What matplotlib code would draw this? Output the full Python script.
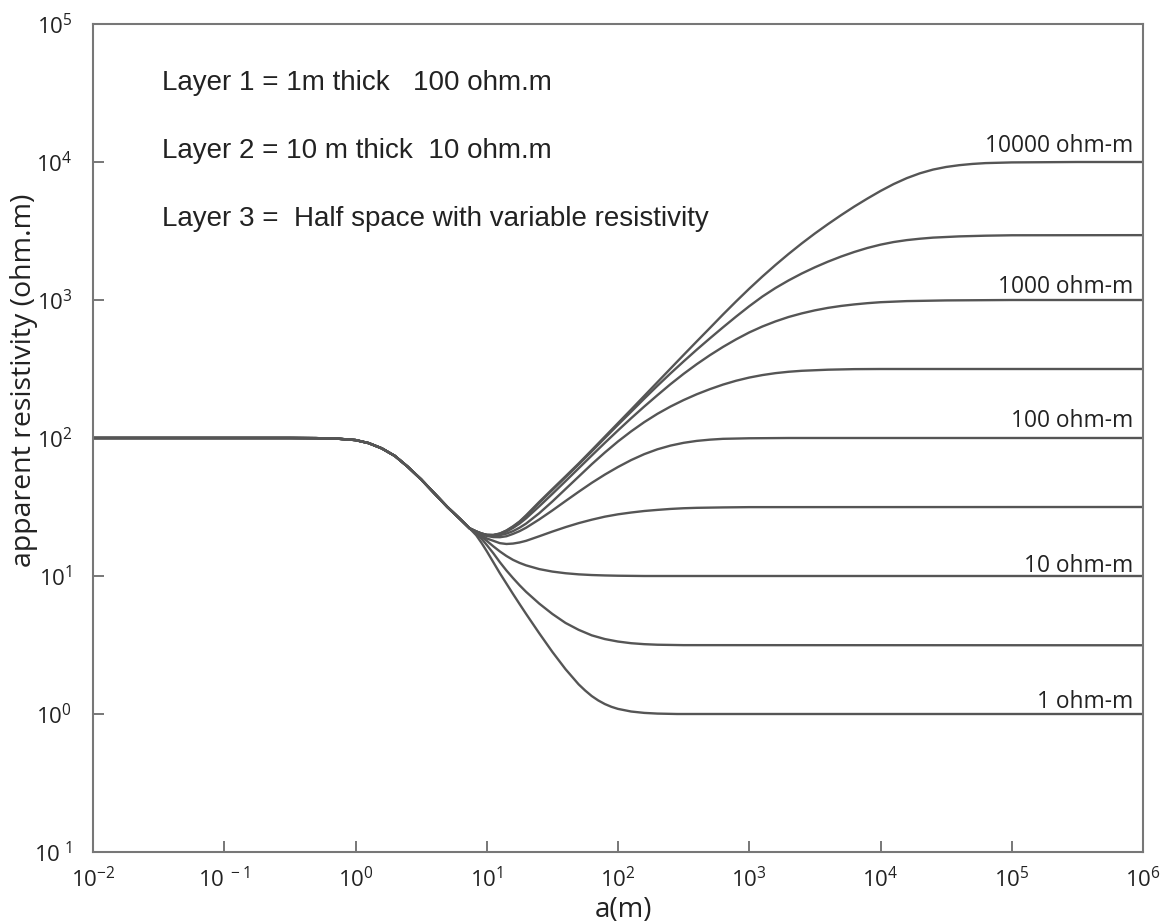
import numpy as np
import matplotlib
matplotlib.use("Agg")
import matplotlib.pyplot as plt
from matplotlib.ticker import NullLocator

# ---------------- data (log10 units) ----------------
# shared descending branch (identical for all curves)
log_a_common = [-2.0, -1.0, -0.5, -0.3, -0.15, 0.0, 0.1, 0.2, 0.3, 0.4, 0.5, 0.6, 0.7, 0.8, 0.87]
log_rho_common = [2.0, 2.0, 2.0, 1.999, 1.996, 1.985, 1.963, 1.925, 1.87, 1.79, 1.70, 1.60, 1.50, 1.41, 1.345]

# grid used where curves bend near the minimum
log_a_near = [0.92, 0.96, 1.0, 1.05, 1.1, 1.15, 1.2, 1.25, 1.3]

# 1 ohm-m half-space
log_a_1 = log_a_near + [1.4, 1.5, 1.6, 1.65, 1.7, 1.75, 1.8, 1.85, 1.9, 1.95, 2.0, 2.1, 2.2, 2.3, 2.45, 6.0]
log_rho_1 = [1.295, 1.24, 1.18, 1.10, 1.02, 0.945, 0.87, 0.797, 0.725,
             0.585, 0.45, 0.325, 0.27, 0.215, 0.17, 0.13, 0.098, 0.072, 0.052, 0.037,
             0.018, 0.008, 0.003, 0.0, 0.0]

# 3.16 ohm-m half-space
log_a_3 = log_a_near + [1.4, 1.5, 1.6, 1.7, 1.8, 1.9, 2.0, 2.1, 2.2, 2.3, 2.5, 6.0]
log_rho_3 = [1.31, 1.27, 1.225, 1.165, 1.10, 1.04, 0.985, 0.933, 0.885,
             0.80, 0.725, 0.66, 0.61, 0.57, 0.543, 0.525, 0.513, 0.506, 0.502, 0.499, 0.498]

# 10 ohm-m half-space
log_a_10 = log_a_near + [1.4, 1.5, 1.6, 1.7, 1.8, 1.9, 2.0, 2.2, 6.0]
log_rho_10 = [1.315, 1.285, 1.255, 1.215, 1.178, 1.145, 1.117, 1.095, 1.077,
              1.05, 1.032, 1.02, 1.012, 1.007, 1.004, 1.002, 1.0, 1.0]

# 31.6 ohm-m half-space
log_a_31 = log_a_near + [1.4, 1.5, 1.6, 1.7, 1.8, 1.9, 2.0, 2.1, 2.2, 2.3, 2.4, 2.5, 2.6, 2.8, 3.0, 6.0]
log_rho_31 = [1.32, 1.295, 1.272, 1.255, 1.238, 1.232, 1.235, 1.243, 1.255,
              1.288, 1.322, 1.354, 1.383, 1.408, 1.43, 1.447, 1.46, 1.471, 1.479, 1.486,
              1.491, 1.494, 1.497, 1.499, 1.5]

# 100 ohm-m half-space
log_a_100 = log_a_near + [1.4, 1.5, 1.6, 1.7, 1.8, 1.9, 2.0, 2.1, 2.2, 2.3, 2.4, 2.5, 2.6, 2.7,
                          2.8, 3.0, 3.3, 6.0]
log_rho_100 = [1.32, 1.302, 1.29, 1.282, 1.281, 1.288, 1.305, 1.325, 1.35,
               1.41, 1.475, 1.543, 1.61, 1.675, 1.735, 1.79, 1.84, 1.883, 1.918, 1.945,
               1.965, 1.979, 1.988, 1.994, 1.998, 2.0, 2.0]

# 316 ohm-m half-space
log_a_316 = log_a_near + [1.4, 1.5, 1.6, 1.7, 1.8, 1.9, 2.0, 2.1, 2.2, 2.3, 2.4, 2.5, 2.6, 2.7,
                          2.8, 2.9, 3.0, 3.1, 3.2, 3.3, 3.4, 3.6, 3.8, 4.0, 6.0]
log_rho_316 = [1.322, 1.306, 1.296, 1.292, 1.296, 1.307, 1.325, 1.35, 1.38,
               1.455, 1.54, 1.63, 1.72, 1.81, 1.895, 1.975, 2.048, 2.115, 2.175, 2.228,
               2.275, 2.317, 2.354, 2.387, 2.415, 2.438, 2.456, 2.47, 2.48, 2.487,
               2.495, 2.499, 2.5, 2.5]

# 1000 ohm-m half-space
log_a_1000 = log_a_near + [1.4, 1.5, 1.6, 1.7, 1.8, 1.9, 2.0, 2.1, 2.2, 2.3, 2.4, 2.5, 2.6, 2.7,
                           2.8, 2.9, 3.0, 3.1, 3.2, 3.3, 3.4, 3.5, 3.6, 3.7, 3.8, 3.9, 4.0,
                           4.2, 4.5, 5.0, 6.0]
log_rho_1000 = [1.323, 1.308, 1.298, 1.296, 1.305, 1.322, 1.348, 1.38, 1.418,
                1.505, 1.595, 1.687, 1.78, 1.873, 1.965, 2.055, 2.143, 2.228, 2.31, 2.39,
                2.465, 2.535, 2.60, 2.66, 2.715, 2.765, 2.808, 2.845, 2.877, 2.903,
                2.925, 2.943, 2.957, 2.968, 2.977, 2.984, 2.992, 2.997, 3.0, 3.0]

# 3162 ohm-m half-space
log_a_3162 = log_a_near + [1.4, 1.5, 1.6, 1.7, 1.8, 1.9, 2.0, 2.1, 2.2, 2.3, 2.4, 2.5, 2.6, 2.7,
                           2.8, 2.9, 3.0, 3.1, 3.2, 3.3, 3.4, 3.5, 3.6, 3.7, 3.8, 3.9, 4.0,
                           4.1, 4.2, 4.3, 4.4, 4.6, 4.8, 5.0, 6.0]
log_rho_3162 = [1.323, 1.308, 1.298, 1.297, 1.307, 1.328, 1.357, 1.392, 1.435,
                1.53, 1.623, 1.715, 1.808, 1.903, 2.0, 2.096, 2.19, 2.285, 2.378, 2.468,
                2.555, 2.64, 2.722, 2.802, 2.88, 2.955, 3.025, 3.087, 3.142, 3.192,
                3.237, 3.278, 3.315, 3.348, 3.377, 3.401, 3.42, 3.434, 3.444, 3.452,
                3.461, 3.466, 3.469, 3.47]

# 10000 ohm-m half-space
log_a_10000 = log_a_near + [1.4, 1.5, 1.6, 1.7, 1.8, 1.9, 2.0, 2.1, 2.2, 2.3, 2.4, 2.5, 2.6, 2.7,
                            2.8, 2.9, 3.0, 3.1, 3.2, 3.3, 3.4, 3.5, 3.6, 3.7, 3.8, 3.9, 4.0,
                            4.1, 4.2, 4.3, 4.4, 4.5, 4.6, 4.7, 4.8, 5.0, 5.5, 6.0]
log_rho_10000 = [1.323, 1.308, 1.298, 1.297, 1.308, 1.33, 1.36, 1.395, 1.44,
                 1.537, 1.63, 1.722, 1.815, 1.912, 2.01, 2.108, 2.206, 2.305, 2.404, 2.503,
                 2.602, 2.70, 2.797, 2.895, 2.99, 3.082, 3.17, 3.254, 3.334, 3.41,
                 3.482, 3.55, 3.615, 3.677, 3.735, 3.79, 3.84, 3.883, 3.918, 3.945,
                 3.964, 3.977, 3.986, 3.992, 3.997, 4.0, 4.0]

curves = [(log_a_1, log_rho_1), (log_a_3, log_rho_3), (log_a_10, log_rho_10),
          (log_a_31, log_rho_31), (log_a_100, log_rho_100), (log_a_316, log_rho_316),
          (log_a_1000, log_rho_1000), (log_a_3162, log_rho_3162), (log_a_10000, log_rho_10000)]

curve_labels = ["10000 ohm-m", "1000 ohm-m", "100 ohm-m", "10 ohm-m", "1 ohm-m"]
x_tick_exps = [-2, -1, 0, 1, 2, 3, 4, 5, 6]
y_tick_exps = [-1, 0, 1, 2, 3, 4, 5]
x_tick_labels = [r"$\mathregular{10^{-2}}$", r"$\mathregular{10^{\ -1}}$", r"$\mathregular{10^{0}}$",
                 r"$\mathregular{10^{1}}$", r"$\mathregular{10^{2}}$", r"$\mathregular{10^{3}}$",
                 r"$\mathregular{10^{4}}$", r"$\mathregular{10^{5}}$", r"$\mathregular{10^{6}}$"]
y_tick_labels = [r"$\mathregular{10^{\ 1}}$", r"$\mathregular{10^{0}}$", r"$\mathregular{10^{1}}$",
                 r"$\mathregular{10^{2}}$", r"$\mathregular{10^{3}}$", r"$\mathregular{10^{4}}$",
                 r"$\mathregular{10^{5}}$"]
layer_notes = ["Layer 1 = 1m thick   100 ohm.m",
               "Layer 2 = 10 m thick  10 ohm.m",
               "Layer 3 =  Half space with variable resistivity"]

# ---------------- styling ----------------
plt.rcParams["font.family"] = ["Open Sans", "DejaVu Sans"]
plt.rcParams["mathtext.fontset"] = "custom"
plt.rcParams["mathtext.rm"] = "Open Sans"
plt.rcParams["mathtext.it"] = "Open Sans:italic"
plt.rcParams["mathtext.bf"] = "Open Sans:bold"

W, H = 1167, 924
fig = plt.figure(figsize=(W / 100, H / 100), dpi=100)
fig.patch.set_facecolor("white")
ax = fig.add_axes([93 / W, 1 - 852 / H, 1050 / W, 828 / H])

line_color = "#555555"
frame_color = "#777777"
text_color = "#222222"

for la_b, lr_b in curves:
    la = np.array(log_a_common + la_b)
    lr = np.array(log_rho_common + lr_b)
    ax.plot(10 ** la, 10 ** lr, color=line_color, lw=1.7, solid_joinstyle="round")

ax.set_xscale("log")
ax.set_yscale("log")
ax.set_xlim(1e-2, 1e6)
ax.set_ylim(1e-1, 1e5)

ax.set_xticks([10.0 ** k for k in x_tick_exps])
ax.set_xticklabels(x_tick_labels)
ax.set_yticks([10.0 ** k for k in y_tick_exps])
ax.set_yticklabels(y_tick_labels)
ax.xaxis.set_minor_locator(NullLocator())
ax.yaxis.set_minor_locator(NullLocator())
ax.tick_params(axis="both", direction="in", length=8, width=1.4, color=frame_color,
               labelsize=16, labelcolor=text_color)
ax.tick_params(axis="x", pad=11)
ax.tick_params(axis="y", pad=15)

for sp in ax.spines.values():
    sp.set_color(frame_color)
    sp.set_linewidth(1.5)

# axis labels
fig.text(24 / W, 1 - 380 / H, "apparent resistivity (ohm.m)", rotation=90,
         ha="center", va="center", fontsize=20.5, color=text_color)
fig.text(624 / W, 1 - 910 / H, "a(m)", ha="center", va="center", fontsize=20, color=text_color)

# layer notes
note_y = [0.920, 0.838, 0.756]
for txt, yy in zip(layer_notes, note_y):
    ax.text(0.0657, yy, txt, transform=ax.transAxes, ha="left", va="baseline",
            fontsize=20, family=["Liberation Sans", "DejaVu Sans"], color=text_color)

# curve labels
label_y = [0.8454, 0.6751, 0.5133, 0.3382, 0.1739]
for txt, yy in zip(curve_labels, label_y):
    ax.text(0.9905, yy, txt, transform=ax.transAxes, ha="right", va="baseline",
            fontsize=16.4, color=text_color)

fig.savefig("out.png", dpi=100)
